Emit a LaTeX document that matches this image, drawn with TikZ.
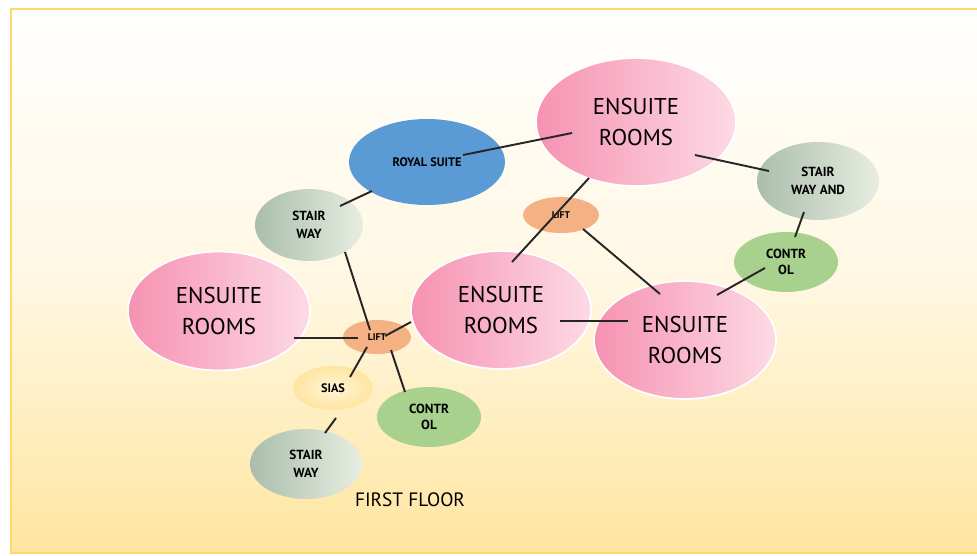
\documentclass[tikz,border=0pt]{standalone}
\usepackage{fontspec}
\setmainfont{PT Sans}
\usetikzlibrary{shapes,calc,positioning,backgrounds}
\definecolor{bgyellow}{RGB}{255,229,160}
\definecolor{frameyellow}{RGB}{255,217,102}
\definecolor{roompink}{RGB}{246,146,178}
\definecolor{roomlight}{RGB}{253,218,229}
\definecolor{suiteblue}{RGB}{91,155,213}
\definecolor{stairdark}{RGB}{170,190,172}
\definecolor{stairlight}{RGB}{232,237,226}
\definecolor{ctrlgreen}{RGB}{169,209,142}
\definecolor{lobeorange}{RGB}{244,177,131}
\tikzset{room/.style={
            ellipse,
            draw=white,
            line width=1pt,
            left color=roompink,
            right color=roomlight,
            minimum width=3.64cm,
            minimum height=2.38cm,
            align=center,
            font=\fontsize{13}{18}\selectfont
        },
        suite/.style={
            ellipse,
            fill=suiteblue,
            minimum width=3.12cm,
            minimum height=1.72cm,
            font=\fontsize{7}{8}\selectfont\bfseries
        },
        stair/.style={
            ellipse,
            left color=stairdark,
            right color=stairlight,
            align=center,
            font=\fontsize{7.5}{10}\selectfont\bfseries
        },
        ctrl/.style={
            ellipse,
            fill=ctrlgreen,
            minimum width=2.08cm,
            minimum height=1.2cm,
            align=center,
            font=\fontsize{7.5}{9}\selectfont\bfseries
        },
        lobe/.style={
            ellipse,
            fill=lobeorange,
            font=\fontsize{5.5}{7}\selectfont\bfseries
        },
        link/.style={
            line width=1.1pt,
            black!85
        }
    }
\begin{document}
\begin{tikzpicture}[x=0.02cm,y=-0.02cm]
\useasboundingbox (0,0) rectangle (977,555);
\fill[white] (0,0) rectangle (977,555);
\shade[top color=white, bottom color=bgyellow, middle color=bgyellow!30] (11,9) rectangle (977,553);
\draw[frameyellow, line width=1.6pt] (977,9)--(11,9)--(11,553)--(977,553);
% rooms
\node[room, minimum width=4cm, minimum height=2.56cm] (ensT) at (636,122) {ENSUITE\\ROOMS};
\node[room] (ensL) at (219,311) {ENSUITE\\ROOMS};
\node[room, minimum width=3.6cm, minimum height=2.36cm] (ensC) at (501,310) {ENSUITE\\ROOMS};
\node[room, minimum height=2.36cm] (ensR) at (685,340) {ENSUITE\\ROOMS};
\node[suite] (royal) at (427,162) {ROYAL SUITE};
% stairs, control, lobbies
\node[stair, minimum width=2.16cm, minimum height=1.44cm] (stairT) at (309,225) {STAIR\\WAY};
\node[stair, minimum width=2.44cm, minimum height=1.56cm] (stairAnd) at (818,181) {STAIR\\WAY AND};
\node[stair, minimum width=2.24cm, minimum height=1.4cm] (stairB) at (306,464) {STAIR\\WAY};
\node[ctrl] (ctrlR) at (786,262) {CONTR\\OL};
\node[ctrl] (ctrlB) at (429,417) {CONTR\\OL};
\node[lobe, minimum width=1.52cm, minimum height=0.72cm] (lobeT) at (561,215) {LIFT};
\node[lobe, minimum width=1.36cm, minimum height=0.68cm] (lobeL) at (377,337) {LIFT};
\node[ellipse, inner color=bgyellow!40, outer color=bgyellow, minimum width=1.6cm, minimum height=0.88cm, font=\fontsize{7}{8}\selectfont\bfseries] (sias) at (333,388) {SIAS};
\node[font=\fontsize{11}{13}\selectfont] (floor) at (410,500) {FIRST FLOOR};
% links
\draw[link] ($(royal)+(36,-7)$) -- ($(ensT)+(-64,11)$);
\draw[link] ($(ensT)+(59,33)$) -- ($(stairAnd)+(-49,-10)$);
\draw[link] ($(stairAnd)+(-14,31)$) -- ($(ctrlR)+(9,-25)$);
\draw[link] ($(ctrlR)+(-21,6)$) -- ($(ensR)+(32,-45)$);
\draw[link] ($(lobeT)+(22,14)$) -- ($(ensR)+(-25,-46)$);
\draw[link] ($(ensT)+(-47,56)$) -- ($(ensC)+(11,-48)$);
\draw[link] ($(ensC)+(59,11)$) -- ($(ensR)+(-57,-19)$);
\draw[link] ($(ensL)+(75,27)$) -- ($(lobeL)+(-19,1)$);
\draw[link] ($(lobeL)+(8,-1)$) -- ($(ensC)+(-90,12)$);
\draw[link] ($(stairT)+(36,27)$) -- ($(lobeL)+(-7,-7)$);
\draw[link] ($(stairT)+(31,-19)$) -- ($(royal)+(-55,29)$);
\draw[link] ($(lobeL)+(-10,10)$) -- ($(sias)+(17,-11)$);
\draw[link] ($(lobeL)+(14,13)$) -- ($(ctrlB)+(-24,-25)$);
\draw[link] ($(sias)+(3,30)$) -- ($(stairB)+(19,-31)$);
\end{tikzpicture}
\end{document}
